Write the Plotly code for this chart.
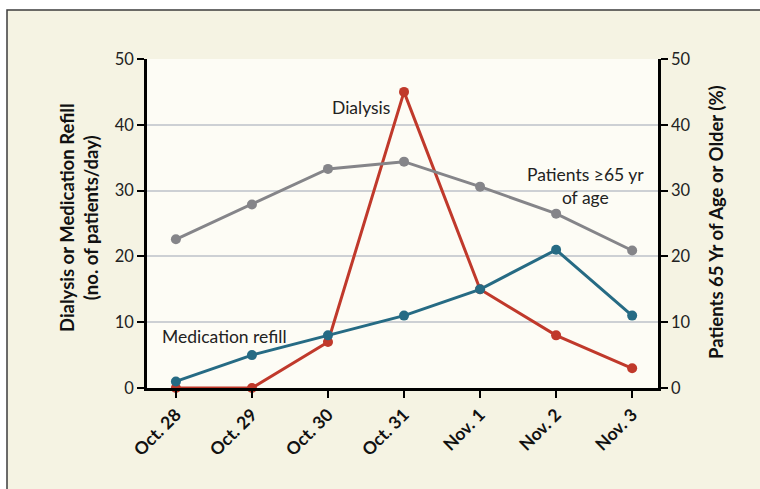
import plotly.graph_objects as go

categories = ["Oct. 28", "Oct. 29", "Oct. 30", "Oct. 31", "Nov. 1", "Nov. 2", "Nov. 3"]
dialysis = [0, 0, 7, 45, 15, 8, 3]
medication_refill = [1, 5, 8, 11, 15, 21, 11]
patients_65_pct = [22.6, 27.9, 33.3, 34.4, 30.6, 26.5, 20.9]
y_ticks = [0, 10, 20, 30, 40, 50]

RED = "#c0392b"
BLUE = "#266b84"
GRAY = "#858589"
CREAM = "#f5f3e3"
PLOTBG = "#fdfcf5"
FONT = "Lato, Open Sans, sans-serif"

W, H = 760, 489
L, T = 147, 59
R = W - 658
B = H - 388
pw, ph = W - L - R, H - T - B

def px(x):
    return (x - L) / pw

def py(y):
    return (H - B - y) / ph

x_idx = list(range(len(categories)))

fig = go.Figure()
fig.add_trace(go.Scatter(x=x_idx, y=patients_65_pct, yaxis="y2", mode="lines+markers",
                         line=dict(color=GRAY, width=3), marker=dict(size=10, color=GRAY),
                         cliponaxis=False, showlegend=False))
fig.add_trace(go.Scatter(x=x_idx, y=dialysis, mode="lines+markers",
                         line=dict(color=RED, width=3), marker=dict(size=10, color=RED),
                         cliponaxis=False, showlegend=False))
fig.add_trace(go.Scatter(x=x_idx, y=medication_refill, mode="lines+markers",
                         line=dict(color=BLUE, width=3), marker=dict(size=10, color=BLUE),
                         cliponaxis=False, showlegend=False))

axis_common = dict(showline=True, linecolor="black", linewidth=2.5, ticks="outside",
                   ticklen=7, tickwidth=2, tickcolor="black")
tick_font = dict(family=FONT, size=16.5, color="#222")

fig.update_layout(
    width=W, height=H,
    margin=dict(l=L, r=R, t=T, b=B),
    paper_bgcolor="white", plot_bgcolor=PLOTBG,
    hovermode=False,
    xaxis=dict(range=[-0.38, 6.34], tickvals=x_idx, ticktext=categories, tickangle=-45,
               showgrid=False, zeroline=False, **axis_common,
               tickfont=dict(family=FONT, size=17.5, color="#111", weight="bold")),
    yaxis=dict(range=[0, 50], tickvals=y_ticks, showgrid=True, gridcolor="#cdd0d4",
               gridwidth=1.5, zeroline=False, **axis_common, tickfont=tick_font),
    yaxis2=dict(range=[0, 50], tickvals=y_ticks, overlaying="y", side="right",
                showgrid=False, zeroline=False, **axis_common, tickfont=tick_font),
    shapes=[
        dict(type="rect", xref="paper", yref="paper", layer="below",
             x0=px(7), x1=px(800), y0=py(520), y1=py(10),
             fillcolor=CREAM, line=dict(color="#3c3c3c", width=1.5)),
        dict(type="rect", xref="paper", yref="paper", layer="below",
             x0=0, x1=1, y0=0, y1=1, fillcolor=PLOTBG, line=dict(width=0)),
    ],
    annotations=[
        dict(x=2.43, y=42.6, xref="x", yref="y", text="Dialysis", showarrow=False,
             font=dict(family=FONT, size=17.5, color="#222")),
        dict(x=5.38, y=30.7, xref="x", yref="y", text="Patients ≥65 yr<br>of age",
             showarrow=False, font=dict(family=FONT, size=17.5, color="#222")),
        dict(x=0.645, y=7.8, xref="x", yref="y", text="Medication refill", showarrow=False,
             font=dict(family=FONT, size=17.5, color="#222")),
        dict(x=px(79), y=py(218), xref="paper", yref="paper",
             xanchor="center", yanchor="middle",
             text="Dialysis or Medication Refill<br>(no. of patients/day)",
             textangle=-90, showarrow=False,
             font=dict(family=FONT, size=18.5, color="#111", weight="bold")),
        dict(x=px(716), y=py(222), xref="paper", yref="paper",
             xanchor="center", yanchor="middle",
             text="Patients 65 Yr of Age or Older (%)",
             textangle=-90, showarrow=False,
             font=dict(family=FONT, size=18.5, color="#111", weight="bold")),
    ],
)

fig.write_html(
    "out.html",
    config={"displayModeBar": False},
    post_script="document.body.style.margin='0';document.body.style.overflow='hidden';",
)
